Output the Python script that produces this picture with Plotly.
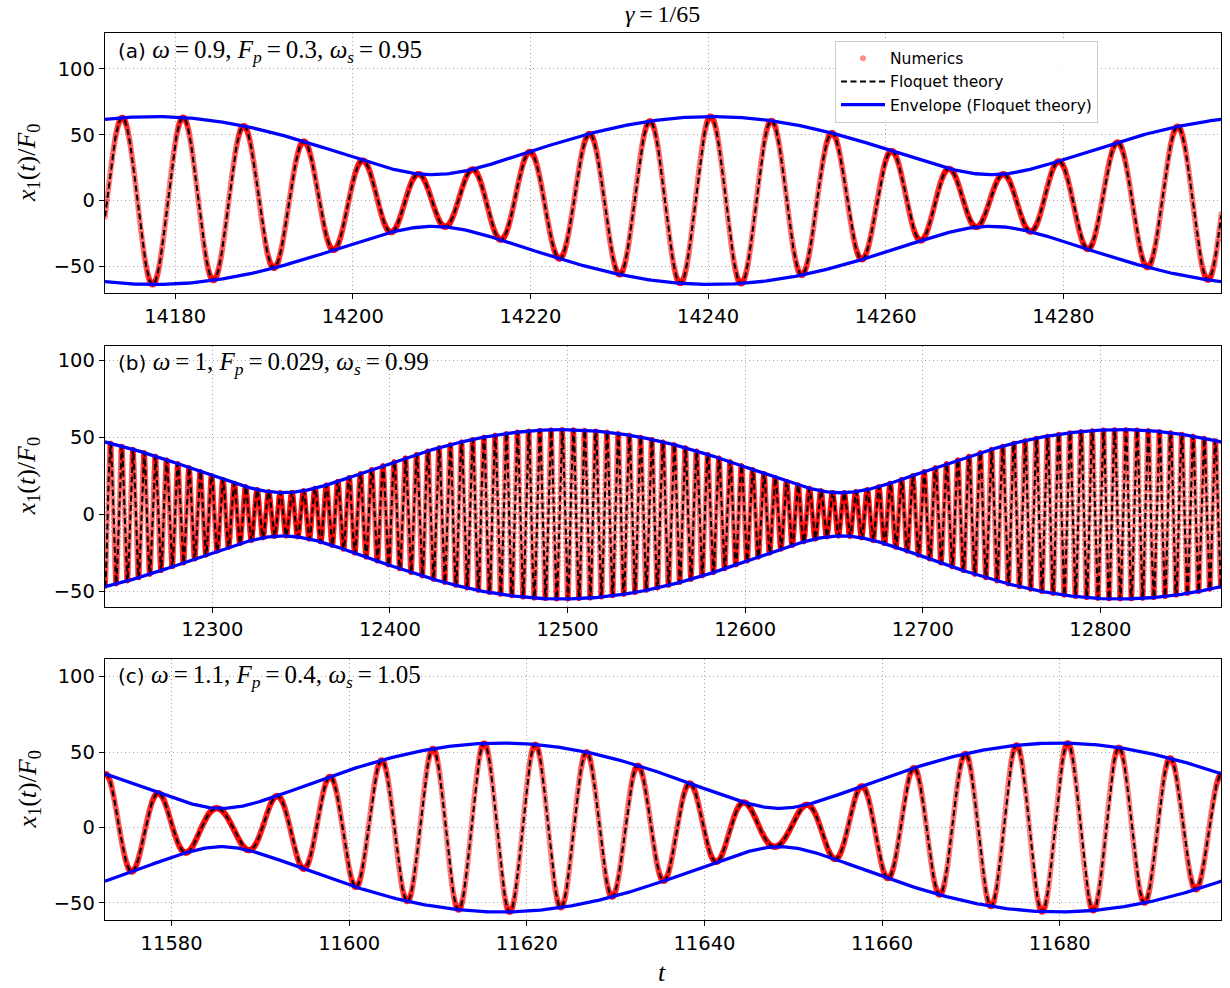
import numpy as np
import plotly.graph_objects as go

# ---------------- data ----------------
panel_tags = ["(a)", "(b)", "(c)"]
omega_vals = ["0.9", "1", "1.1"]
fp_vals = ["0.3", "0.029", "0.4"]
omega_s_vals = ["0.95", "0.99", "1.05"]
gamma_text = "1/65"

# Floquet response: component at omega_s and at 2*omega - omega_s
omega = [0.9, 1.0, 1.1]
omega_s = [0.95, 0.99, 1.05]
amp_main = [41.7, 34.5, 34.35]     # amplitude of omega_s component
amp_side = [22.1, 20.5, 21.65]     # amplitude of 2*omega-omega_s component
t_env_max = [14240.45, 12497.0, 11617.05]   # time of envelope maximum
phase = [0.14, 0.0, 2.03]

t_start = [14172.1, 12239.6, 11572.5]
t_end = [14297.76, 12867.9, 11698.16]

xticks_a = [14180, 14200, 14220, 14240, 14260, 14280]
xticks_b = [12300, 12400, 12500, 12600, 12700, 12800]
xticks_c = [11580, 11600, 11620, 11640, 11660, 11680]
yticks = [-50, 0, 50, 100]
y_ranges = [[-70.5, 127.5], [-60.0, 109.3], [-61.3, 111.7]]

# ---------------- figure ----------------
W, H = 1230, 988
x_dom = [105 / W, 1221 / W]
panels_px = [(32.7, 293.3), (346.0, 606.7), (659.0, 920.0)]
y_doms = [[1 - b / H, 1 - t / H] for (t, b) in panels_px]
num_step = [0.05, 0.06, 0.05]
num_size = [6, 5, 6]
num_alpha = [0.45, 0.55, 0.45]


def response(i, t):
    tau = t - t_env_max[i]
    w1 = omega_s[i]
    w2 = 2 * omega[i] - omega_s[i]
    return amp_main[i] * np.cos(w1 * tau + phase[i]) + amp_side[i] * np.cos(w2 * tau + phase[i])


def envelope(i, t):
    tau = t - t_env_max[i]
    dw = (2 * omega[i] - omega_s[i]) - omega_s[i]
    a, b = amp_main[i], amp_side[i]
    return np.sqrt(a * a + b * b + 2 * a * b * np.cos(dw * tau))


fig = go.Figure()
axis_ids = ["", "2", "3"]
for i in range(3):
    xa = "x" + axis_ids[i]
    ya = "y" + axis_ids[i]
    t_num = np.arange(t_start[i], t_end[i] + num_step[i], num_step[i])
    t_th = np.arange(t_start[i], t_end[i] + 0.02, 0.02)
    t_env = np.arange(t_start[i], t_end[i] + 0.25, 0.25)
    show = i == 0
    fig.add_trace(go.Scatter(
        x=t_num, y=response(i, t_num), mode="markers", name="Numerics",
        marker=dict(color=f"rgba(255,0,0,{num_alpha[i]})", size=num_size[i], line=dict(width=0)),
        xaxis=xa, yaxis=ya, showlegend=show, legendgroup="num", hoverinfo="skip"))
    fig.add_trace(go.Scatter(
        x=t_th, y=response(i, t_th), mode="lines", name="Floquet theory",
        line=dict(color="black", width=2, dash="6px,3.5px"),
        xaxis=xa, yaxis=ya, showlegend=show, legendgroup="flq", hoverinfo="skip"))
    env = envelope(i, t_env)
    fig.add_trace(go.Scatter(
        x=t_env, y=env, mode="lines", name="Envelope (Floquet theory)",
        line=dict(color="#0000ff", width=3.3),
        xaxis=xa, yaxis=ya, showlegend=show, legendgroup="env", hoverinfo="skip"))
    fig.add_trace(go.Scatter(
        x=t_env, y=-env, mode="lines", name="Envelope (Floquet theory)",
        line=dict(color="#0000ff", width=3.3),
        xaxis=xa, yaxis=ya, showlegend=False, legendgroup="env", hoverinfo="skip"))

tick_font = dict(family="DejaVu Sans", size=19.5, color="black")
common_axis = dict(
    showline=True, mirror=True, linecolor="black", linewidth=1.3,
    ticks="outside", ticklen=5, tickwidth=1.3, tickcolor="black",
    showgrid=True, gridcolor="#a8a8a8", gridwidth=1.1, griddash="1.3px,2.7px",
    zeroline=False, tickfont=tick_font,
)
xticks_all = [xticks_a, xticks_b, xticks_c]
layout = dict(
    width=W, height=H, margin=dict(l=0, r=0, t=0, b=0),
    plot_bgcolor="white", paper_bgcolor="white",
    legend=dict(x=835 / W, y=1 - 40.7 / H, xanchor="left", yanchor="top",
                bgcolor="rgba(255,255,255,0.85)", bordercolor="#cccccc", borderwidth=1,
                font=dict(family="DejaVu Sans", size=15.5, color="black"),
                tracegroupgap=0, itemwidth=44),
)
for i in range(3):
    layout["xaxis" + axis_ids[i]] = dict(
        domain=x_dom, range=[t_start[i], t_end[i]], anchor="y" + axis_ids[i],
        tickvals=xticks_all[i], ticktext=[str(v) for v in xticks_all[i]], **common_axis)
    layout["yaxis" + axis_ids[i]] = dict(
        domain=y_doms[i], range=y_ranges[i], anchor="x" + axis_ids[i],
        tickvals=yticks, ticktext=["\u221250", "0", "50", "100"], **common_axis)
fig.update_layout(**layout)

serif = "Liberation Serif"
label_y_px = [51, 363.3, 676.7]
for i in range(3):
    txt = (f"{panel_tags[i]} <span style=\"font-family:{serif};font-size:25px\">"
           f"<i>ω</i>\u2009=\u2009{omega_vals[i]}, <i>F<sub>p</sub></i>\u2009=\u2009{fp_vals[i]}, "
           f"<i>ω<sub>s</sub></i>\u2009=\u2009{omega_s_vals[i]}</span>")
    fig.add_annotation(x=116 / W, y=1 - label_y_px[i] / H, xref="paper", yref="paper",
                       xanchor="left", yanchor="middle", showarrow=False, text=txt,
                       font=dict(family="DejaVu Sans", size=20, color="black"))
    cy = (panels_px[i][0] + panels_px[i][1]) / 2
    fig.add_annotation(x=28 / W, y=1 - cy / H, xref="paper", yref="paper",
                       xanchor="center", yanchor="middle", showarrow=False, textangle=-90,
                       text="<i>x</i><sub>1</sub>(<i>t</i>)/<i>F</i><sub>0</sub>",
                       font=dict(family=serif, size=26, color="black"))

fig.add_annotation(x=662 / W, y=1 - 14 / H, xref="paper", yref="paper",
                   xanchor="center", yanchor="middle", showarrow=False,
                   text=f"<i>γ</i>\u2009=\u2009{gamma_text}",
                   font=dict(family=serif, size=24, color="black"))
fig.add_annotation(x=662 / W, y=1 - 972 / H, xref="paper", yref="paper",
                   xanchor="center", yanchor="middle", showarrow=False,
                   text="<i>t</i>", font=dict(family=serif, size=26, color="black"))

fig.write_html("out.html")
